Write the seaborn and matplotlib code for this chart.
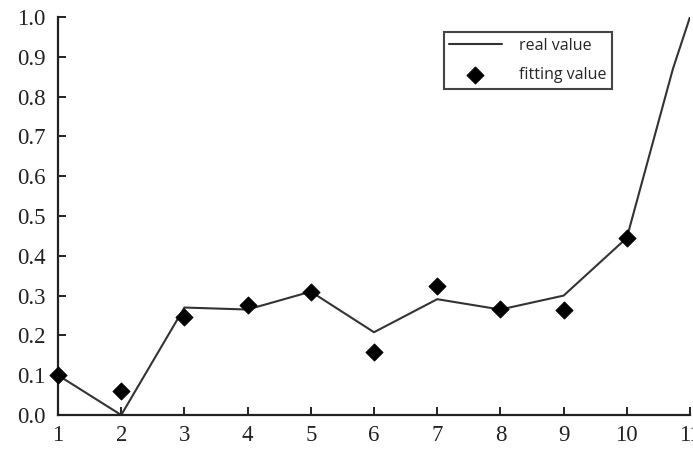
import numpy as np
import pandas as pd
import matplotlib
matplotlib.use("Agg")
import matplotlib.pyplot as plt
import seaborn as sns

# real value curve
real_x = [1, 2, 3, 4, 5, 6, 7, 8, 9, 10, 10.73, 11]
real_y = [0.10, 0.00, 0.27, 0.265, 0.31, 0.208, 0.291, 0.265, 0.30, 0.445, 0.87, 1.0]

# fitting value points
fit_x = [1, 2, 3, 4, 5, 6, 7, 8, 9, 10]
fit_y = [0.10, 0.06, 0.246, 0.276, 0.309, 0.158, 0.324, 0.266, 0.264, 0.445]

x_ticks = [1, 2, 3, 4, 5, 6, 7, 8, 9, 10, 11]
y_ticks = [0.0, 0.1, 0.2, 0.3, 0.4, 0.5, 0.6, 0.7, 0.8, 0.9, 1.0]

sns.set_style("ticks")
plt.rcParams['font.family'] = ['Liberation Serif', 'DejaVu Serif']

real_df = pd.DataFrame({"x": real_x, "y": real_y})
fit_df = pd.DataFrame({"x": fit_x, "y": fit_y})

fig = plt.figure(figsize=(6.93, 4.49), dpi=100)
ax = fig.add_axes([0.0837, 0.0757, 0.912, 0.8865])

sns.lineplot(data=real_df, x="x", y="y", ax=ax, color="#333333",
             linewidth=1.5, label="real value", sort=False)
sns.scatterplot(data=fit_df, x="x", y="y", ax=ax, marker="D", s=75,
                color="black", edgecolor="black", label="fitting value",
                zorder=3, clip_on=False)

ax.set_xlim(1, 11)
ax.set_ylim(0, 1.0)
ax.set_xticks(x_ticks)
ax.set_yticks(y_ticks)
ax.set_xticklabels([str(t) for t in x_ticks])
ax.set_yticklabels([f"{t:.1f}" for t in y_ticks])
ax.set_xlabel("")
ax.set_ylabel("")

sns.despine(ax=ax)
for s in ["left", "bottom"]:
    ax.spines[s].set_linewidth(1.6)
    ax.spines[s].set_color("#222222")
ax.tick_params(direction="in", length=6, width=1.4, colors="#222222",
               labelsize=16.5, labelcolor="#222222")
ax.tick_params(axis="y", pad=9)
ax.tick_params(axis="x", pad=7)

leg = ax.legend(loc="upper left", bbox_to_anchor=(0.61, 0.962),
                frameon=True, fancybox=False, handlelength=3.3,
                handletextpad=1.1, borderpad=0.35, labelspacing=0.85,
                borderaxespad=0,
                prop={"family": "Open Sans", "size": 11.5})
leg.get_frame().set_edgecolor("#444444")
leg.get_frame().set_linewidth(1.5)
leg.get_frame().set_alpha(1)

fig.savefig("out.png", dpi=100)
